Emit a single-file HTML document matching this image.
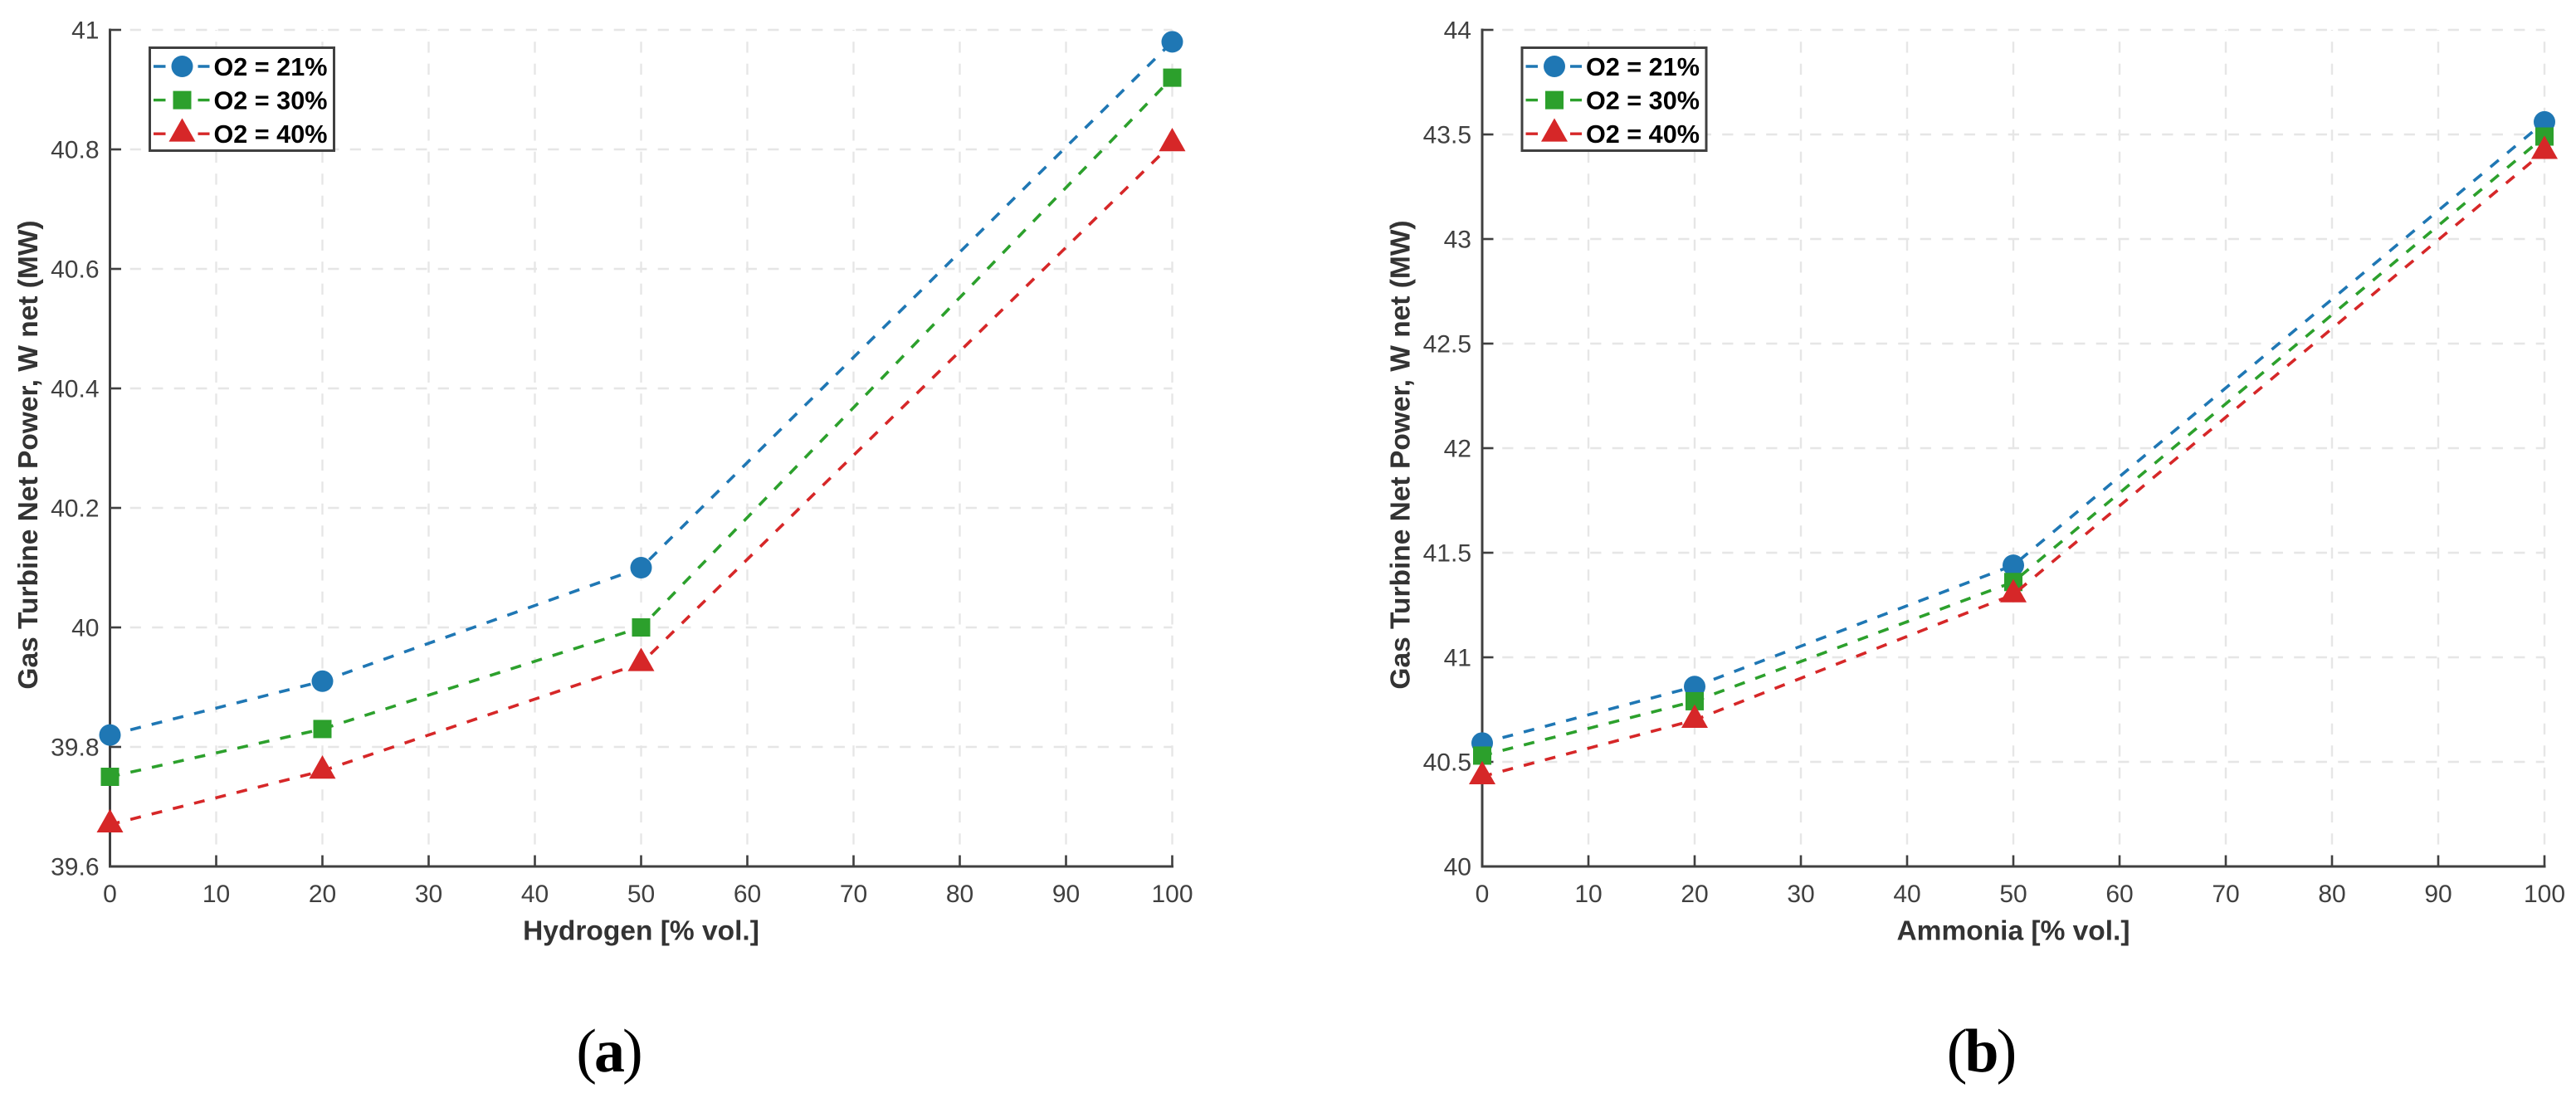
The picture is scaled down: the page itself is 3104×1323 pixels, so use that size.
<!DOCTYPE html>
<html lang="en">
<head>
<meta charset="utf-8">
<title>Gas Turbine Net Power vs Hydrogen and Ammonia</title>
<style>
html,body{margin:0;padding:0;background:#fff;}
#stage{display:block;width:3104px;height:1323px;background:#fff;}
text{font-family:"Liberation Sans",Arial,sans-serif;}
.caption{font-family:"Liberation Serif","Times New Roman",serif;font-size:74px;letter-spacing:-3px;fill:#000;}
</style>
</head>
<body>
<svg id="stage" xmlns="http://www.w3.org/2000/svg" width="3104" height="1323" viewBox="0 0 3104 1323">
  <g id="panel-a"></g>
  <g id="panel-b" transform="translate(1653.5 0)"></g>
  <text class="caption" x="733" y="1291" text-anchor="middle">(<tspan font-weight="bold">a</tspan>)</text>
  <text class="caption" x="2386.5" y="1291" text-anchor="middle">(<tspan font-weight="bold">b</tspan>)</text>
</svg>
<script>
const xCategories = [0, 20, 50, 100];
const xTicks = ['0', '10', '20', '30', '40', '50', '60', '70', '80', '90', '100'];
const seriesLabels = ['O2 = 21%', 'O2 = 30%', 'O2 = 40%'];

const hydrogenO2At21 = [39.82, 39.91, 40.10, 40.98];
const hydrogenO2At30 = [39.75, 39.83, 40.00, 40.92];
const hydrogenO2At40 = [39.67, 39.76, 39.94, 40.81];
const hydrogenYTicks = ['39.6', '39.8', '40', '40.2', '40.4', '40.6', '40.8', '41'];

const ammoniaO2At21 = [40.59, 40.86, 41.44, 43.56];
const ammoniaO2At30 = [40.53, 40.79, 41.36, 43.49];
const ammoniaO2At40 = [40.43, 40.70, 41.30, 43.42];
const ammoniaYTicks = ['40', '40.5', '41', '41.5', '42', '42.5', '43', '43.5', '44'];

const NS = 'http://www.w3.org/2000/svg';
const PLOT = { left: 132.5, right: 1412.5, top: 36, bottom: 1044 };
const COLORS = ['#1f77b4', '#2ca02c', '#d62728'];
const AXIS_COLOR = '#404040';
const GRID_COLOR = '#e6e6e6';

function make(parent, tag, attrs) {
  const el = document.createElementNS(NS, tag);
  for (const k in attrs) el.setAttribute(k, attrs[k]);
  parent.appendChild(el);
  return el;
}

function markerShape(parent, kind, cx, cy, color) {
  if (kind === 0) {
    return make(parent, 'circle', { cx: cx, cy: cy, r: 13, fill: color });
  }
  if (kind === 1) {
    return make(parent, 'rect', { x: cx - 11, y: cy - 11, width: 22, height: 22, fill: color });
  }
  const pts = cx + ',' + (cy - 18.8) + ' ' + (cx - 16) + ',' + (cy + 9.4) + ' ' + (cx + 16) + ',' + (cy + 9.4);
  return make(parent, 'polygon', { points: pts, fill: color });
}

function drawPanel(root, xLabel, yTicks, seriesList) {
  const xMin = Number(xTicks[0]);
  const xMax = Number(xTicks[xTicks.length - 1]);
  const yMin = Number(yTicks[0]);
  const yMax = Number(yTicks[yTicks.length - 1]);
  const xScale = function (v) { return PLOT.left + (v - xMin) / (xMax - xMin) * (PLOT.right - PLOT.left); };
  const yScale = function (v) { return PLOT.bottom - (v - yMin) / (yMax - yMin) * (PLOT.bottom - PLOT.top); };

  // gridlines
  yTicks.forEach(function (t) {
    const y = yScale(Number(t));
    if (Number(t) === yMin) return;
    const line = make(root, 'line', { x1: PLOT.left, x2: PLOT.right, y1: y, y2: y, stroke: GRID_COLOR, 'stroke-width': 2.4, 'stroke-dasharray': '13.25 13.25', 'stroke-dashoffset': 2.3 });
    
    
  });
  xTicks.forEach(function (t) {
    const x = xScale(Number(t));
    if (Number(t) === xMin) return;
    const line = make(root, 'line', { x1: x, x2: x, y1: PLOT.bottom, y2: PLOT.top, stroke: GRID_COLOR, 'stroke-width': 2.4, 'stroke-dasharray': '13.25 13.25' });
    
    
  });

  // axes
  const yAxis = make(root, 'line', { x1: PLOT.left, x2: PLOT.left, y1: PLOT.top - 1.5, y2: PLOT.bottom + 1.5, stroke: AXIS_COLOR, 'stroke-width': 3 });
  
  
  const xAxis = make(root, 'line', { x1: PLOT.left, x2: PLOT.right + 1.5, y1: PLOT.bottom, y2: PLOT.bottom, stroke: AXIS_COLOR, 'stroke-width': 3 });
  
  

  // ticks and tick labels
  yTicks.forEach(function (t) {
    const y = yScale(Number(t));
    const tick = make(root, 'line', { x1: PLOT.left, x2: PLOT.left + 13.5, y1: y, y2: y, stroke: AXIS_COLOR, 'stroke-width': 2.6 });
    
    
    const label = make(root, 'text', { x: 119.5, y: y + 10.5, 'text-anchor': 'end', 'font-size': 30, fill: AXIS_COLOR });
    label.textContent = t;
    
    
  });
  xTicks.forEach(function (t) {
    const x = xScale(Number(t));
    const tick = make(root, 'line', { x1: x, x2: x, y1: PLOT.bottom, y2: PLOT.bottom - 13.5, stroke: AXIS_COLOR, 'stroke-width': 2.6 });
    
    
    const label = make(root, 'text', { x: x, y: 1087, 'text-anchor': 'middle', 'font-size': 30, fill: AXIS_COLOR });
    label.textContent = t;
    
    
  });

  // axis titles
  const xTitle = make(root, 'text', { x: 772.5, y: 1132.5, 'text-anchor': 'middle', 'font-size': 33.5, 'font-weight': 'bold', fill: '#333333' });
  xTitle.textContent = xLabel;
  
  
  const yTitle = make(root, 'text', { transform: 'translate(45 548) rotate(-90)', 'text-anchor': 'middle', 'font-size': 33.5, 'font-weight': 'bold', fill: '#333333' });
  yTitle.textContent = 'Gas Turbine Net Power, W net (MW)';
  
  

  // series
  seriesList.forEach(function (values, s) {
    const group = make(root, 'g', {});
    
    
    const pts = values.map(function (v, i) { return xScale(xCategories[i]) + ',' + yScale(v); }).join(' ');
    const line = make(group, 'polyline', { points: pts, fill: 'none', stroke: COLORS[s], 'stroke-width': 3.6, 'stroke-dasharray': '13 13.4', 'stroke-dashoffset': 1 });
    
    
    values.forEach(function (v, i) {
      const m = markerShape(group, s, xScale(xCategories[i]), yScale(v), COLORS[s]);
      
      
    });
  });

  // legend
  const legend = make(root, 'g', {});
  
  
  const box = make(legend, 'rect', { x: 180.5, y: 57.5, width: 222, height: 124, fill: '#ffffff', stroke: AXIS_COLOR, 'stroke-width': 3 });
  
  
  seriesLabels.forEach(function (name, s) {
    const cy = 80 + s * 40.6;
    const entry = make(legend, 'g', {});
    
    
    make(entry, 'line', { x1: 185, x2: 252.5, y1: cy, y2: cy, stroke: COLORS[s], 'stroke-width': 3.4, 'stroke-dasharray': '14.5 39 14' });
    markerShape(entry, s, 219.5, cy, COLORS[s]);
    const label = make(entry, 'text', { x: 257.5, y: cy + 10.8, 'font-size': 30.6, 'font-weight': 'bold', fill: '#000000' });
    label.textContent = name;
    
    
  });
}

drawPanel(document.getElementById('panel-a'), 'Hydrogen [% vol.]', hydrogenYTicks, [hydrogenO2At21, hydrogenO2At30, hydrogenO2At40]);
drawPanel(document.getElementById('panel-b'), 'Ammonia [% vol.]', ammoniaYTicks, [ammoniaO2At21, ammoniaO2At30, ammoniaO2At40]);
</script>
</body>
</html>
